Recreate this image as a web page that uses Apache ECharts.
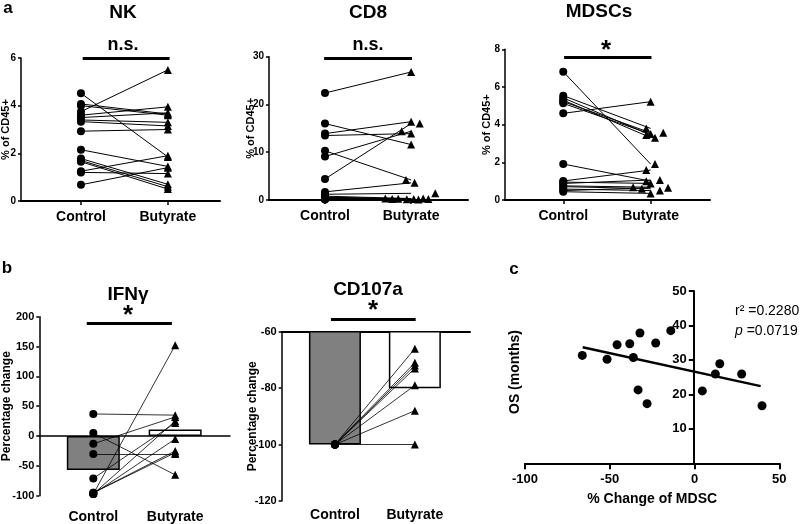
<!DOCTYPE html>
<html><head><meta charset="utf-8">
<script src="https://cdn.jsdelivr.net/npm/echarts@6/dist/echarts.min.js"></script>
<style>html,body{margin:0;padding:0;background:#fff}#c{width:800px;height:524px}</style>
</head><body><div id="c"></div>
<script>
// ---------- data ----------
const groups = ['Control', 'Butyrate'];

const nkTicks = [0, 2, 4, 6];
const nkControl  = [4.52, 4.07, 4.0, 3.75, 3.6, 3.5, 3.4, 3.33, 2.93, 2.15, 1.78, 1.7, 1.65, 1.25, 1.2, 0.68];
const nkButyrate = [1.85, 3.65, 3.6, 5.5, 3.95, 3.7, 3.3, 3.15, 3.0, 1.45, 0.7, 0.6, 0.5, 1.9, 1.15, 1.4];
const nkJitter   = [0, 0, 0, 0, 0, 0, 0, 0, 0, 0, 0, 0, 0, 0, 0, 0];

const cd8Ticks = [0, 10, 20, 30];
const cd8Control  = [22.4, 16.0, 13.9, 13.5, 10.3, 9.1, 4.4, 1.7, 1.2, 0.8, 0.6, 0.5, 0.4, 0.3, 0.2, 0.15, 0.1];
const cd8Butyrate = [26.8, 11.6, 16.4, 13.9, 4.2, 14.4, 16.0, 3.6, 1.4, 0.3, 0.2, 0.25, 0.15, 0.2, 0.1, 0.3, 0.2];
const cd8Jitter   = [0, 0, 0, 0, -0.06, -0.11, 0.1, 0.04, 0.28, -0.3, -0.22, -0.15, -0.05, 0.03, 0.085, 0.14, 0.2];

const mdscTicks = [0, 2, 4, 6, 8];
const mdscControl  = [6.81, 5.54, 5.42, 5.3, 5.22, 5.13, 4.6, 1.91, 1.01, 0.95, 0.88, 0.75, 0.71, 0.58, 0.5, 0.44];
const mdscButyrate = [1.91, 3.8, 3.45, 3.31, 3.57, 3.5, 5.22, 1.0, 1.59, 0.88, 1.06, 0.68, 0.6, 0.5, 0.65, 0.35];
const mdscJitter   = [0.05, -0.05, -0.05, 0.05, 0.145, 0, 0, -0.05, -0.05, 0, 0.106, -0.2, -0.1, 0.106, 0.2, 0];

const ifnTicks = [-100, -50, 0, 50, 100, 150, 200];
const ifnControl  = [37, 5, -13, -30, -71, -97, -97, -97, -95, -95];
const ifnButyrate = [35, -65, 32, -30, 22, 152, 25, -5, -25, -28];
const ifnMeans = [-57, 11];

const cd107Ticks = [-120, -100, -80, -60];
const cd107Control  = [-100, -100, -100, -100, -100, -100, -100];
const cd107Butyrate = [-66, -71, -72, -73, -79, -88, -100];
const cd107Means = [-100, -80];

const cXTicks = [-100, -50, 0, 50];
const cYTicks = [0, 10, 20, 30, 40, 50];
const mdscChange = [-66.2, -51.6, -45.7, -38.2, -32.2, -36.1, -22.9, -14.0, -33.3, -28.0, 4.6, 12.3, 14.9, 27.8, 39.8];
const osMonths   = [31.3, 30.2, 34.4, 34.7, 37.8, 30.7, 34.9, 38.5, 21.3, 17.3, 21.0, 25.9, 28.9, 25.9, 16.7];
const fitX = [-66, 39];
const fitY = [33.7, 22.4];

// ---------- chart ----------
const FONT = '"Liberation Sans", Arial, Helvetica, sans-serif';
const BLACK = '#000';
const chart = echarts.init(document.getElementById('c'), null, { renderer: 'canvas' });

const grids = [
  { left: 21, top: 58, width: 199, height: 143 },
  { left: 269, top: 56.7, width: 199, height: 143.3 },
  { left: 505, top: 49.3, width: 205, height: 150.7 },
  { left: 39.3, top: 316.7, width: 190.7, height: 179 },
  { left: 281.7, top: 331.7, width: 188.3, height: 169.3 },
  { left: 525, top: 291, width: 254.3, height: 172.3 },
  { left: 693.8, top: 291, width: 85.5, height: 172.3 }
].map(g => Object.assign({ containLabel: false, outerBoundsMode: 'none' }, g));

function groupXAxis(gi, min, max, opt) {
  opt = opt || {};
  return {
    type: 'value', gridIndex: gi, min: min, max: max, position: opt.position || 'bottom',
    splitLine: { show: false },
    axisLine: { show: opt.line !== false, onZero: !!opt.onZero, lineStyle: { color: BLACK, width: opt.lineWidth || 2 } },
    axisTick: { show: !!opt.ticks, inside: !!opt.tickInside, customValues: [0, 1], length: 4, lineStyle: { color: BLACK, width: 1.5 } },
    axisLabel: {
      show: opt.labels !== false, customValues: [0, 1], margin: opt.margin || 8,
      formatter: v => groups[Math.round(v)] || '',
      color: BLACK, fontFamily: FONT, fontWeight: 'bold', fontSize: 14
    }
  };
}

function valueYAxis(gi, ticks, name, nameGap, fontSize, nameSize) {
  return {
    type: 'value', gridIndex: gi, min: ticks[0], max: ticks[ticks.length - 1], interval: ticks[1] - ticks[0],
    splitLine: { show: false },
    axisLine: { show: true, onZero: false, lineStyle: { color: BLACK, width: 1.5 } },
    axisTick: { show: true, length: 3, lineStyle: { color: BLACK, width: 1.5 } },
    axisLabel: { color: BLACK, fontFamily: FONT, fontWeight: 'bold', fontSize: fontSize, margin: 5 },
    name: name, nameLocation: 'middle', nameGap: nameGap, nameMoveOverlap: false,
    nameTextStyle: { color: BLACK, fontFamily: FONT, fontWeight: 'bold', fontSize: nameSize }
  };
}

const xAxes = [
  groupXAxis(0, -0.69, 1.6, { ticks: true, margin: 9 }),
  groupXAxis(1, -0.65, 1.66, { ticks: true, margin: 9 }),
  groupXAxis(2, -0.667, 1.68, { ticks: true, margin: 9 }),
  groupXAxis(3, -0.66, 1.67, { line: false, margin: 14 }),
  groupXAxis(3, -0.66, 1.67, { labels: false, onZero: true, lineWidth: 1.5 }),
  groupXAxis(4, -0.666, 1.69, { line: false, margin: 7 }),
  groupXAxis(4, -0.666, 1.69, { labels: false, position: 'top', ticks: true, tickInside: true, lineWidth: 2 }),
  {
    type: 'value', gridIndex: 5, min: cXTicks[0], max: cXTicks[cXTicks.length - 1], interval: cXTicks[1] - cXTicks[0],
    splitLine: { show: false },
    axisLine: { show: true, onZero: false, lineStyle: { color: BLACK, width: 2 } },
    axisTick: { show: true, length: 6, lineStyle: { color: BLACK, width: 2 } },
    axisLabel: { color: BLACK, fontFamily: FONT, fontWeight: 'bold', fontSize: 13, margin: 10 },
    name: '% Change of MDSC', nameLocation: 'middle', nameGap: 29, nameMoveOverlap: false,
    nameTextStyle: { color: BLACK, fontFamily: FONT, fontWeight: 'bold', fontSize: 14 }
  },
  { type: 'value', gridIndex: 6, min: 0, max: 1, show: false }
];

const yAxes = [
  valueYAxis(0, nkTicks, '% of CD45+', 10, 10, 11),
  valueYAxis(1, cd8Ticks, '% of CD45+', 13, 10, 11),
  valueYAxis(2, mdscTicks, '% of CD45+', 13, 10, 11),
  valueYAxis(3, ifnTicks, 'Percentage change', 27, 11, 12),
  valueYAxis(4, cd107Ticks, 'Percentage change', 23, 11, 12),
  { type: 'value', gridIndex: 5, min: cYTicks[0], max: cYTicks[cYTicks.length - 1], show: false },
  {
    type: 'value', gridIndex: 6, min: cYTicks[0], max: cYTicks[cYTicks.length - 1], interval: cYTicks[1] - cYTicks[0],
    splitLine: { show: false },
    axisLine: { show: true, onZero: false, lineStyle: { color: BLACK, width: 2 } },
    axisTick: { show: true, length: 5, lineStyle: { color: BLACK, width: 2 } },
    axisLabel: { color: BLACK, fontFamily: FONT, fontWeight: 'bold', fontSize: 13, margin: 7,
      formatter: v => v === 0 ? '' : String(v) }
  }
];

const series = [];

function addPaired(xi, yi, ctrl, but, jit, sig, opts) {
  opts = opts || {};
  series.push({
    type: 'lines', coordinateSystem: 'cartesian2d', xAxisIndex: xi, yAxisIndex: yi, silent: true, clip: false, z: 3,
    lineStyle: { color: BLACK, width: opts.lineWidth || 1, opacity: 1, curveness: 0 },
    data: ctrl.map((c, i) => ({ coords: [[0, c], [1, but[i]]] }))
  });
  series.push({
    type: 'scatter', xAxisIndex: xi, yAxisIndex: yi, symbol: 'circle', symbolSize: 8, clip: false, z: 4,
    itemStyle: { color: BLACK, opacity: 1 }, data: ctrl.map(c => [0, c])
  });
  series.push({
    type: 'scatter', xAxisIndex: xi, yAxisIndex: yi, symbol: 'triangle', symbolSize: 8, clip: false, z: 4,
    itemStyle: { color: BLACK, opacity: 1 }, data: but.map((b, i) => [1 + (jit ? jit[i] : 0), b])
  });
  series.push({
    type: 'lines', coordinateSystem: 'cartesian2d', xAxisIndex: xi, yAxisIndex: yi, silent: true, clip: false, z: 3,
    lineStyle: { color: BLACK, width: 3, opacity: 1 },
    data: [{ coords: [[sig[0], sig[2]], [sig[1], sig[2]]] }]
  });
}

function addBars(xi, yi, means, width) {
  series.push({
    type: 'bar', xAxisIndex: xi, yAxisIndex: yi, barWidth: width, clip: true, z: 2, silent: true,
    itemStyle: { borderColor: BLACK, borderWidth: 1.5 },
    data: [
      { value: [0, means[0]], itemStyle: { color: '#808080' } },
      { value: [1, means[1]], itemStyle: { color: '#ffffff' } }
    ]
  });
}

addPaired(0, 0, nkControl, nkButyrate, nkJitter, [0.02, 1.02, 6.0]);
addPaired(1, 1, cd8Control, cd8Butyrate, cd8Jitter, [-0.01, 1.01, 29.7]);
addPaired(2, 2, mdscControl, mdscButyrate, mdscJitter, [0.01, 1.01, 7.57]);
addBars(3, 3, ifnMeans, 53);
addPaired(3, 3, ifnControl, ifnButyrate, null, [-0.08, 0.96, 189], { lineWidth: 0.8 });
addBars(5, 4, cd107Means, 52);
addPaired(5, 4, cd107Control, cd107Butyrate, null, [-0.05, 1.01, -55.5], { lineWidth: 0.8 });

series.push({
  type: 'scatter', xAxisIndex: 7, yAxisIndex: 5, symbol: 'circle', symbolSize: 9, z: 4,
  itemStyle: { color: BLACK, opacity: 1 }, data: mdscChange.map((x, i) => [x, osMonths[i]])
});
series.push({
  type: 'line', xAxisIndex: 7, yAxisIndex: 5, symbol: 'none', z: 3, silent: true,
  lineStyle: { color: BLACK, width: 2.5 }, data: fitX.map((x, i) => [x, fitY[i]])
});

function txt(x, y, text, size, extra) {
  extra = extra || {};
  return {
    type: 'text', x: x, y: y, rotation: extra.rotation || 0, z: 10, silent: true,
    style: Object.assign({
      text: text, fill: BLACK,
      font: (extra.weight || 'bold') + ' ' + size + 'px ' + FONT,
      textAlign: extra.align || 'center', textVerticalAlign: 'middle'
    }, extra.style || {})
  };
}

const graphics = [
  txt(8, 8, 'a', 17),
  txt(123, 13, 'NK', 19),
  txt(123, 45, 'n.s.', 18),
  txt(368, 13, 'CD8', 19),
  txt(368, 45, 'n.s.', 18),
  txt(599, 12, 'MDSCs', 19),
  txt(606, 51, '*', 26),
  txt(7, 268, 'b', 17),
  txt(128, 295, 'IFNγ', 19),
  txt(128, 316, '*', 26),
  txt(368, 290, 'CD107a', 19),
  txt(373, 311, '*', 26),
  txt(514, 269, 'c', 17),
  txt(515, 372, 'OS (months)', 14, { rotation: Math.PI / 2 }),
  txt(735, 311, 'r² =0.2280', 14, { weight: 'normal', align: 'left' }),
  txt(735, 331, '{i|p} =0.0719', 14, { weight: 'normal', align: 'left',
    style: { rich: { i: { fontStyle: 'italic', fontSize: 14, fontFamily: FONT, fill: BLACK } } } })
];

chart.setOption({
  backgroundColor: '#ffffff',
  animation: false,
  grid: grids,
  xAxis: xAxes,
  yAxis: yAxes,
  series: series,
  graphic: graphics
});
</script>
</body></html>
